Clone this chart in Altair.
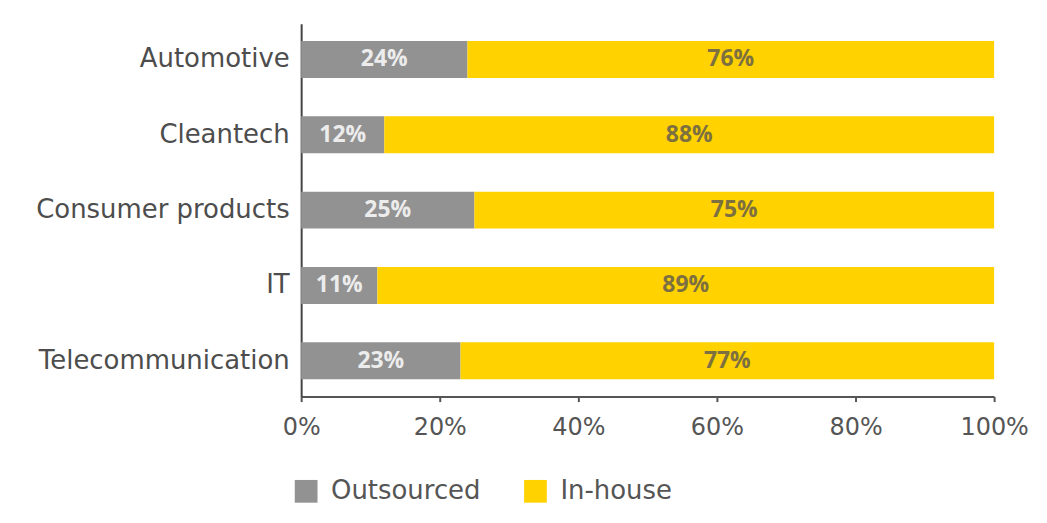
import altair as alt
import pandas as pd

categories = ["Automotive", "Cleantech", "Consumer products", "IT", "Telecommunication"]
outsourced = [24, 12, 25, 11, 23]
inhouse = [76, 88, 75, 89, 77]
series = ["Outsourced", "In-house"]
x_ticks = [0, 20, 40, 60, 80, 100]

rows = []
for c, o, i in zip(categories, outsourced, inhouse):
    rows.append({"category": c, "series": "Outsourced", "value": o, "order": 0})
    rows.append({"category": c, "series": "In-house", "value": i, "order": 1})
df = pd.DataFrame(rows)

FONT = "DejaVu Sans"
BAR_FONT = "Open Sans"

base = alt.Chart(df).transform_stack(
    stack="value", groupby=["category"], as_=["v0", "v1"],
    sort=[alt.SortField("order", order="ascending")]
).transform_calculate(mid="(datum.v0 + datum.v1) / 2")

y_enc = alt.Y("category:N", sort=categories,
              scale=alt.Scale(paddingInner=0.51, paddingOuter=0.23),
              axis=alt.Axis(title=None, ticks=False, domainColor="#444", domainWidth=2,
                            labelFont=FONT, labelFontSize=26, labelColor="#4d4d4d",
                            labelPadding=12, labelLimit=400))

bars = base.mark_bar().encode(
    x=alt.X("v0:Q", scale=alt.Scale(domain=[0, 100], nice=False),
            axis=alt.Axis(values=x_ticks, labelExpr="datum.value + '%'", title=None,
                          grid=False, domainColor="#555", domainWidth=2,
                          tickColor="#555", tickSize=5, tickWidth=2,
                          labelFont=FONT, labelFontSize=24, labelColor="#555",
                          labelPadding=14, labelFlush=False)),
    x2="v1:Q",
    y=y_enc,
    color=alt.Color("series:N", scale=alt.Scale(domain=series, range=["#929292", "#ffd200"]),
                    legend=alt.Legend(title=None, orient="none", legendX=-8, legendY=456,
                                      direction="horizontal", symbolType="square",
                                      symbolSize=520, symbolStrokeWidth=0,
                                      labelFont=FONT, labelFontSize=26, labelColor="#555",
                                      labelLimit=300, columnPadding=42, labelOffset=12)),
)

labels = base.mark_text(font=BAR_FONT, fontSize=23, fontWeight="bold").encode(
    x="mid:Q",
    y=alt.Y("category:N", sort=categories),
    text=alt.Text("label:N"),
    color=alt.condition(alt.datum.series == "Outsourced", alt.value("#ececec"), alt.value("#7d7040")),
).transform_calculate(label="datum.value + '%'")

chart = alt.layer(bars, labels).properties(
    width=695, height=374,
    autosize=alt.AutoSizeParams(type="none"),
    padding={"left": 294, "top": 15, "right": 45, "bottom": 110},
    background="white",
).configure_view(stroke=None)

chart.save("out.html", embed_options={"renderer": "svg", "actions": False})
